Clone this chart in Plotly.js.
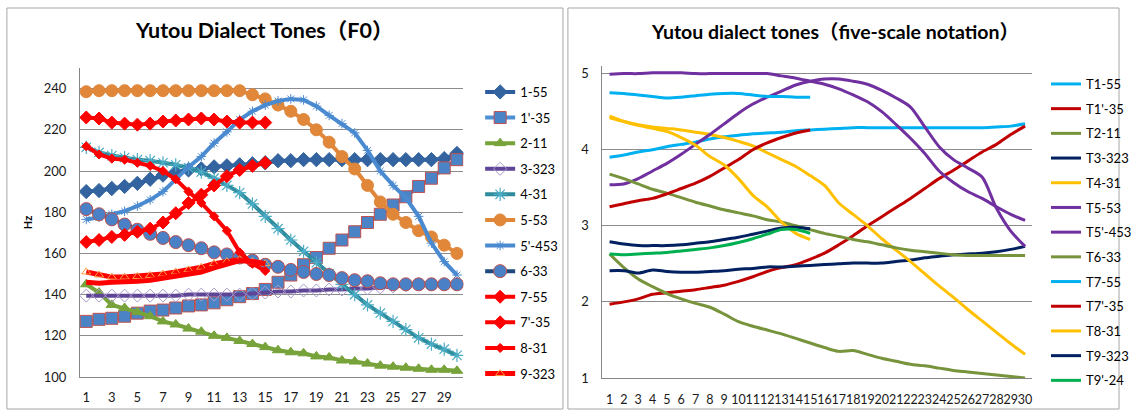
<!DOCTYPE html>
<html>
<head>
<meta charset="utf-8">
<script src="https://cdn.plot.ly/plotly-3.0.1.min.js"></script>
<style>html,body{margin:0;padding:0;background:#fff;}#chart{width:1137px;height:410px;}</style>
</head>
<body>
<div id="chart"></div>
<script>
// ---------- categories ----------
const points = [1,2,3,4,5,6,7,8,9,10,11,12,13,14,15,16,17,18,19,20,21,22,23,24,25,26,27,28,29,30];
const leftTickLabels = ['1','3','5','7','9','11','13','15','17','19','21','23','25','27','29'];
const rightTickLabels = ['1','2','3','4','5','6','7','8','9','10','11','12','13','14','15','16','17','18','19','20','21','22','23','24','25','26','27','28','29','30'];

// ---------- left chart: F0 (Hz) ----------
const f0_1_55  = [190,190.5,191.5,192.5,194,196,198,199.5,200.5,201,202,202.5,203,203.5,204,205,205,205.5,205.5,205.5,205.5,205.5,205.5,205.5,205.5,205.5,205.5,205.5,206,208.5];
const f0_1p_35 = [127,128,128.5,129.5,131,132,132.5,133.5,134.5,135,136,137.5,139,140.5,142.5,146,149.5,154.5,158,162.5,166.5,170.5,175,179,183.5,187.5,192.5,196.5,201.5,205.5];
const f0_2_11  = [145,141,135,133.5,131.5,129.5,127,125.5,123.5,122,120,119,117.5,116,114.5,113,112,111.5,110,109.5,108,107.5,106.5,105.5,105,104.5,104,103.5,103.5,103];
const f0_3_323 = [139.5,139.5,139.5,139.5,139.5,139.5,139.5,139.5,140,140,140,140,140,140.5,141,141.5,141.5,142,142,142.5,142.5,143,143,143.5,144,144.5,145,145,145,145];
const f0_4_31  = [211.5,209,207.5,206.5,205.5,205,204,203,201.5,199.5,196.5,193,189.5,184,178,172,166.5,161,155.5,150,145,140,135,131,127,123,119,116,113.5,110.5];
const f0_5_53  = [238.5,239,239,239,239,239,239,239,239,239,239,239,239,237,235,232,229,225,220,214,207,201,193,185,179,175,171,168,164,160];
const f0_5p_453= [176.5,177.5,179,180.5,183,186,190,196,202,207,213.5,219,225,229,232,234,235,234.5,231.5,227,223,218.5,210,200,193,187,178,165,156,149.5];
const f0_6_33  = [181.5,179,176.5,174,171.5,169.5,167.5,165.5,164,162.5,160.5,159.5,158,156.5,154.5,153.5,152,151,150,149.5,148,147,146.5,145.5,145,145,145,145,145,145];
const f0_7_55  = [226,225.5,223.5,223,222.5,223,224,224.5,225,225.5,225,224,223.5,223.5,223.5];
const f0_7p_35 = [165.5,166.5,168,169,170.5,172,175,179.5,184.5,188.5,193,197.5,200.5,202.5,204];
const f0_8_31  = [212,208,206,205.5,204,202.5,200,196,190,184.5,178,171,160.5,155,151.5];
const f0_9_323 = [151,149.5,148.5,148.5,148.8,149.3,150,151,152,153.3,155,156,157,156,155];
const f0_9p_24 = [146,145.5,146,146,146.5,147,148,149,150,151,153,155,156.5,156,155];

// ---------- right chart: five-scale values ----------
const t1_55   = [3.9,3.93,3.97,4.0,4.04,4.07,4.1,4.14,4.17,4.19,4.21,4.22,4.23,4.25,4.26,4.27,4.28,4.29,4.29,4.29,4.29,4.29,4.29,4.29,4.29,4.29,4.29,4.3,4.31,4.34];
const t1p_35  = [1.97,2.0,2.04,2.1,2.12,2.14,2.16,2.19,2.22,2.27,2.33,2.4,2.45,2.49,2.56,2.64,2.75,2.87,3.0,3.12,3.24,3.36,3.49,3.62,3.73,3.85,3.97,4.07,4.2,4.31];
const t2_11   = [2.63,2.45,2.3,2.2,2.11,2.04,1.98,1.93,1.84,1.74,1.68,1.63,1.58,1.52,1.46,1.4,1.35,1.36,1.31,1.26,1.22,1.18,1.16,1.13,1.1,1.08,1.06,1.04,1.02,1.0];
const t3_323  = [2.41,2.41,2.38,2.42,2.4,2.39,2.39,2.4,2.41,2.43,2.44,2.46,2.46,2.47,2.48,2.49,2.5,2.51,2.51,2.51,2.53,2.55,2.58,2.6,2.62,2.63,2.64,2.66,2.69,2.73];
const t4_31   = [4.42,4.37,4.33,4.3,4.28,4.26,4.23,4.2,4.16,4.11,4.05,3.96,3.87,3.78,3.66,3.53,3.3,3.15,3.0,2.83,2.68,2.53,2.37,2.21,2.06,1.9,1.75,1.6,1.45,1.31];
const t5_53   = [4.99,5.0,5.0,5.01,5.01,5.01,5.0,5.0,5.0,5.0,5.0,5.0,4.97,4.94,4.9,4.86,4.8,4.72,4.63,4.5,4.33,4.15,3.95,3.72,3.57,3.45,3.36,3.25,3.15,3.07];
const t5p_453 = [3.54,3.55,3.62,3.72,3.82,3.94,4.07,4.2,4.34,4.48,4.6,4.69,4.77,4.85,4.9,4.93,4.93,4.9,4.86,4.78,4.68,4.56,4.3,4.04,3.87,3.76,3.64,3.23,2.93,2.73];
const t6_33   = [3.68,3.62,3.55,3.48,3.43,3.37,3.31,3.26,3.21,3.17,3.13,3.08,3.05,3.0,2.95,2.9,2.86,2.82,2.79,2.75,2.71,2.68,2.66,2.64,2.62,2.61,2.61,2.61,2.61,2.61];
const t7_55   = [4.75,4.74,4.72,4.7,4.68,4.69,4.71,4.73,4.74,4.74,4.72,4.7,4.7,4.69,4.69];
const t7p_35  = [3.25,3.29,3.33,3.36,3.42,3.49,3.56,3.65,3.76,3.87,4.0,4.09,4.16,4.22,4.26];
const t8_31   = [4.44,4.37,4.32,4.28,4.24,4.16,4.06,3.91,3.8,3.62,3.4,3.25,3.05,2.9,2.82];
const t9_323  = [2.79,2.76,2.74,2.74,2.74,2.75,2.77,2.79,2.82,2.85,2.89,2.93,2.97,2.98,2.96];
const t9p_24  = [2.63,2.62,2.63,2.64,2.65,2.67,2.69,2.71,2.74,2.78,2.83,2.89,2.95,2.95,2.9];

const FONT = 'Lato, "Noto Sans CJK SC", sans-serif';
const W = 1137, H = 410;
const px = v => v / W;
const py = v => (H - v) / H;

function lt(name, y, color, width, symbol, msize, mcolor, mline, mlinew, legendShow) {
  const t = {
    x: points.slice(0, y.length), y: y, name: name, type: 'scatter', mode: symbol ? 'lines+markers' : 'lines',
    xaxis: 'x', yaxis: 'y', legend: 'legend', legendgroup: 'L' + name, showlegend: legendShow !== false,
    line: {color: color, width: width}
  };
  if (symbol) t.marker = {symbol: symbol, size: msize, color: mcolor, line: {color: mline, width: mlinew}};
  return t;
}
function rt(name, y, color) {
  return {
    x: points.slice(0, y.length), y: y, name: name, type: 'scatter', mode: 'lines',
    xaxis: 'x2', yaxis: 'y2', legend: 'legend2', legendgroup: 'R' + name,
    line: {color: color, width: 3, shape: 'spline', smoothing: 0.8}
  };
}

const traces = [
  lt('1-55', f0_1_55, '#2F5E9E', 4, 'diamond', 11, '#34649F', '#34649F', 1),
  lt("1'-35", f0_1p_35, '#4F8FD6', 4, 'square', 12, '#4A84C6', '#C0504D', 1),
  lt('2-11', f0_2_11, '#77A33A', 4, 'triangle-up', 10, '#77A33A', '#77A33A', 1),
  lt('3-323', f0_3_323, '#5F4596', 4, 'diamond-open', 10, '#A99BCB', '#A99BCB', 1),
  lt('4-31', f0_4_31, '#2E8C9C', 4, 'asterisk-open', 11, '#4BACC6', '#4BACC6', 1.2),
  lt('5-53', f0_5_53, '#E0873A', 4, 'circle', 12, '#E0873A', '#E0873A', 1),
  lt("5'-453", f0_5p_453, '#4A8AD0', 4, 'asterisk-open', 8, '#4A8AD0', '#4A8AD0', 1),
  lt('6-33', f0_6_33, '#1F497D', 4, 'circle', 13, '#4A80C6', '#C0504D', 1),
  lt('7-55', f0_7_55, '#FF0000', 4, 'diamond', 10, '#FF0000', '#FF0000', 1),
  lt("7'-35", f0_7p_35, '#FF0000', 4, 'diamond', 10, '#FF0000', '#FF0000', 1),
  lt('8-31', f0_8_31, '#FF0000', 4, 'diamond', 7, '#FF0000', '#FF0000', 1),
  lt('9-323', f0_9_323, '#FF0000', 5, 'triangle-up-open', 8, '#F7A046', '#F7A046', 1),
  lt("9'-24", f0_9p_24, '#FF0000', 5, null, 0, null, null, 0, false),
  rt('T1-55', t1_55, '#00B0F0'),
  rt("T1'-35", t1p_35, '#C00000'),
  rt('T2-11', t2_11, '#77933C'),
  rt('T3-323', t3_323, '#002060'),
  rt('T4-31', t4_31, '#FFC000'),
  rt('T5-53', t5_53, '#7030A0'),
  rt("T5'-453", t5p_453, '#7030A0'),
  rt('T6-33', t6_33, '#77933C'),
  rt('T7-55', t7_55, '#00B0F0'),
  rt("T7'-35", t7p_35, '#C00000'),
  rt('T8-31', t8_31, '#FFC000'),
  rt('T9-323', t9_323, '#002060'),
  rt("T9'-24", t9p_24, '#00B050')
];

const axisCommon = {showline: true, linecolor: '#868686', linewidth: 1, zeroline: false, ticks: '', fixedrange: true,
  tickfont: {family: FONT, size: 13, color: '#1a1a1a'}};

const layout = {
  width: W, height: H, margin: {l: 0, r: 0, t: 0, b: 0},
  paper_bgcolor: '#ffffff', plot_bgcolor: 'rgba(0,0,0,0)',
  font: {family: FONT},
  xaxis: Object.assign({}, axisCommon, {domain: [px(81), px(470)], range: [0.5, 30.5], anchor: 'y',
    tickmode: 'array', tickvals: leftTickLabels.map(Number), ticktext: leftTickLabels, showgrid: false, ticklabelstandoff: 8, tickangle: 0}),
  yaxis: Object.assign({}, axisCommon, {domain: [py(377), py(68)], range: [100, 250], anchor: 'x',
    tickmode: 'linear', tick0: 100, dtick: 20, showgrid: true, gridcolor: '#8C8C8C', gridwidth: 1, ticklabelstandoff: 10,
    title: {text: '<b>Hz</b>', font: {family: FONT, size: 11, color: '#000'}, standoff: 8}}),
  xaxis2: Object.assign({}, axisCommon, {domain: [px(611), px(1047)], range: [0.5, 30.5], anchor: 'y2',
    tickmode: 'array', tickvals: rightTickLabels.map(Number), ticktext: rightTickLabels, showgrid: false, ticklabelstandoff: 10,
    tickangle: 0, tickfont: {family: FONT, size: 12.5, color: '#1a1a1a'}}),
  yaxis2: Object.assign({}, axisCommon, {domain: [py(378), py(66)], range: [1, 5.1], anchor: 'x2',
    tickmode: 'linear', tick0: 1, dtick: 1, showgrid: true, gridcolor: '#8C8C8C', gridwidth: 1, ticklabelstandoff: 10}),
  legend: {x: px(487), y: py(77), xanchor: 'left', yanchor: 'top', bgcolor: 'rgba(0,0,0,0)',
    font: {family: FONT, size: 13, color: '#000'}, tracegroupgap: 5.7, itemwidth: 30, traceorder: 'grouped'},
  legend2: {x: px(1061), y: py(69), xanchor: 'left', yanchor: 'top', bgcolor: 'rgba(0,0,0,0)',
    font: {family: FONT, size: 13, color: '#000'}, tracegroupgap: 4.8, itemwidth: 30, traceorder: 'grouped'},
  annotations: [
    {text: '<b>Yutou Dialect Tones（F0）</b>', xref: 'paper', yref: 'paper', x: px(268), y: py(30),
      xanchor: 'center', yanchor: 'middle', showarrow: false, font: {family: FONT, size: 21.5, color: '#000'}},
    {text: '<b>Yutou dialect tones（five-scale notation）</b>', xref: 'paper', yref: 'paper', x: px(847), y: py(32),
      xanchor: 'center', yanchor: 'middle', showarrow: false, font: {family: FONT, size: 19.5, color: '#000'}}
  ],
  shapes: [
    {type: 'rect', xref: 'paper', yref: 'paper', x0: px(7), x1: px(571), y0: py(409), y1: py(8),
      line: {color: '#A6A6A6', width: 1}, fillcolor: 'rgba(0,0,0,0)', layer: 'below'},
    {type: 'rect', xref: 'paper', yref: 'paper', x0: px(576), x1: px(1135), y0: py(409), y1: py(8),
      line: {color: '#A6A6A6', width: 1}, fillcolor: 'rgba(0,0,0,0)', layer: 'below'}
  ],
  showlegend: true
};

Plotly.newPlot('chart', traces, layout, {staticPlot: true, displayModeBar: false});
</script>
</body>
</html>
